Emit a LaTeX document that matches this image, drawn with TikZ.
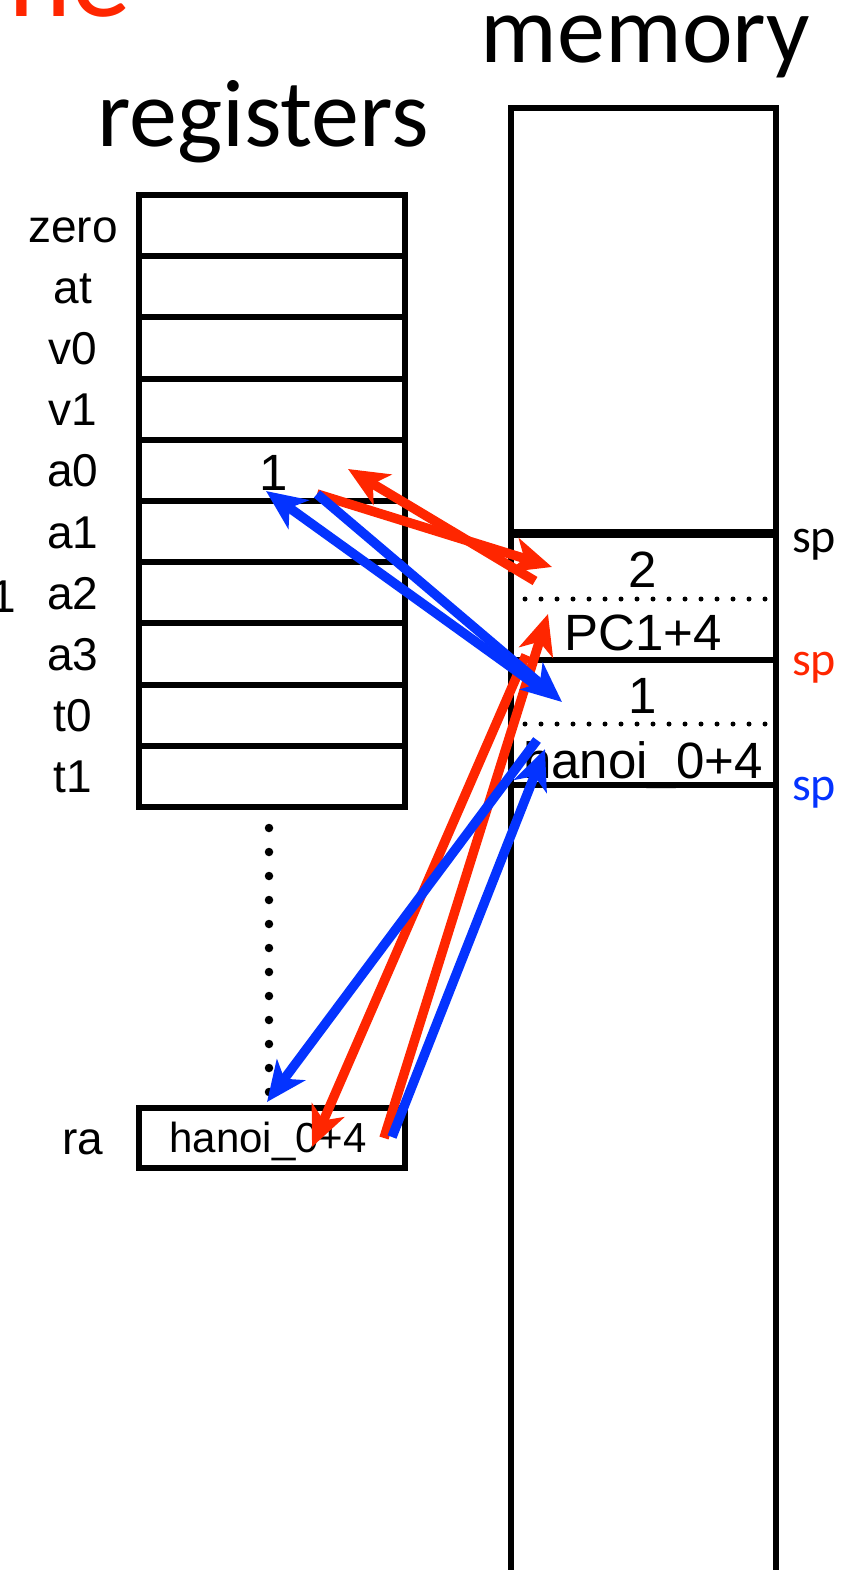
\documentclass[tikz,border=0pt]{standalone}
\usepackage{fontspec}
\setmainfont{Liberation Sans}
\newfontfamily\titlefont{Carlito}
\usepackage{xcolor}
\usetikzlibrary{arrows.meta, positioning, calc}

\definecolor{kred}{RGB}{255,38,0}
\definecolor{kblue}{RGB}{4,51,255}

\begin{document}
\begin{tikzpicture}[
    x=1pt, y=-1pt,
    >={Stealth[length=40pt, width=35pt, inset=11pt]},
    regcell/.style={draw, line width=6pt, minimum width=266pt, minimum height=61.2pt, inner sep=0pt},
    reglabel/.style={font=\fontsize{46}{50}\selectfont, anchor=base, inner sep=0pt},
    memtext/.style={font=\fontsize{51}{56}\selectfont, anchor=base, inner sep=0pt},
    heading/.style={font=\titlefont\fontsize{96}{100}\selectfont, anchor=base, inner sep=0pt},
    splabel/.style={font=\titlefont\fontsize{48}{50}\selectfont, anchor=base west, inner sep=0pt},
    memline/.style={line width=6pt},
    dotline/.style={line cap=round, dash pattern=on 0pt off #1},
    push/.style={->, kred, line width=9.5pt},
    pop/.style={->, kblue, line width=9.5pt}
  ]
  \useasboundingbox (0,0) rectangle (861,1570);

  \node[anchor=base east, inner sep=0pt, text=kred, font=\titlefont\fontsize{120}{120}\selectfont] (title) at (131,17) {ne};
  \node[reglabel, anchor=base east] (cut) at (16,612) {1};

  % register file
  \node[heading] (regs) at (263,147) {registers};
  \foreach \name [count=\i from 0] in {zero,at,v0,v1,a0,a1,a2,a3,t0,t1} {
    \node[regcell] (r-\name) at (272,{225.6+61.2*\i}) {};
    \node[reglabel] (l-\name) at (73,{242.1+61.2*\i}) {\name};
  }
  \node[memtext] (a0val) at (274,490) {1};
  \draw[line width=8.5pt, dotline=24pt] (269,828) -- (269,1093);
  \node[regcell, minimum height=60pt] (r-ra) at (272,1137.5) {};
  \node[reglabel] (l-ra) at (82.5,1154) {ra};
  \node[font=\fontsize{42}{46}\selectfont, anchor=base, inner sep=0pt] (raval) at (268,1152) {hanoi\_0+4};

  % stack in memory
  \node[heading] (mem) at (645.5,63) {memory};
  \draw[memline] (510.5,1585) |- (775.5,108) -- (775.5,1585);
  \draw[line width=8.5pt] (510.5,533.5) -- (775.5,533.5);
  \draw[memline] (510.5,660) -- (775.5,660);
  \draw[memline] (510.5,785) -- (775.5,785);
  \draw[line width=5pt, dotline=16pt] (525,599) -- (770,599);
  \draw[line width=5pt, dotline=16pt] (525,724) -- (770,724);
  \node[memtext] (arg1) at (643,587) {2};
  \node[memtext] (ret1) at (643,650) {PC1+4};
  \node[memtext] (arg0) at (643,713) {1};
  \node[memtext] (ret0) at (643,778) {hanoi\_0+4};

  \node[splabel] (sp) at (792,552) {sp};
  \node[splabel, text=kred] (sp-red) at (792,675) {sp};
  \node[splabel, text=kblue] (sp-blue) at (792,800) {sp};

  % arrow ends
  \coordinate (a0-st) at (317,494);
  \coordinate (a0-ld) at (348,469);
  \coordinate (a0-bl) at (266,491);
  \coordinate (arg1-in) at (552,567);
  \coordinate (arg1-out) at (535,581);
  \coordinate (arg0-in) at (562,702);
  \coordinate (arg0-out) at (540,688);
  \coordinate (ret1-in) at (548,614);
  \coordinate (ret1-out) at (526,655);
  \coordinate (ret0-in) at (545,749);
  \coordinate (ret0-out) at (537,740);
  \coordinate (ra-red-st) at (384,1138);
  \coordinate (ra-red-ld) at (312,1147);
  \coordinate (ra-blue-st) at (392,1137);
  \coordinate (ra-blue-ld) at (267,1102);

  \draw[push] (a0-st) -- (arg1-in);
  \draw[push] (arg1-out) -- (a0-ld);
  \draw[push] (ra-red-st) -- (ret1-in);
  \draw[push] (ret1-out) -- (ra-red-ld);
  \draw[pop] (a0-st) -- (arg0-in);
  \draw[pop] (arg0-out) -- (a0-bl);
  \draw[pop] (ret0-out) -- (ra-blue-ld);
  \draw[pop] (ra-blue-st) -- (ret0-in);
\end{tikzpicture}
\end{document}
